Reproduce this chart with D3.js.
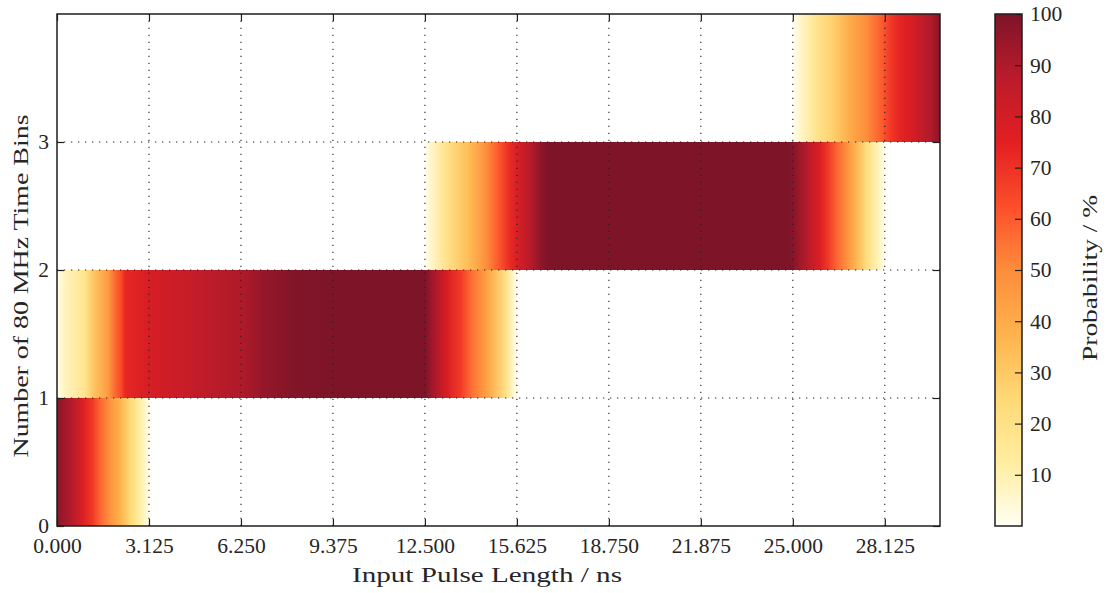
<!DOCTYPE html>
<html>
<head>
<meta charset="utf-8">
<script src="https://cdn.jsdelivr.net/npm/d3@7"></script>
<style>
  body { margin: 0; background: #fff; }
  text { font-family: "Liberation Serif", serif; fill: #262626; }
</style>
</head>
<body>
<script>
(function(){
  // tick labels
  var xTicks = [0, 3.125, 6.25, 9.375, 12.5, 15.625, 18.75, 21.875, 25, 28.125];
  var yTicks = [0, 1, 2, 3];
  var cbTicks = [10, 20, 30, 40, 50, 60, 70, 80, 90, 100];

  // probability (%) along input pulse length (ns), one pair of arrays per time-bin row
  var bin0Length = [0, 0.03, 0.54, 0.85, 1.22, 1.46, 1.8, 2.14, 2.48, 2.82, 3.125];
  var bin0Prob   = [100, 97, 88, 78, 68, 58, 48, 38, 25, 12, 1];

  var bin1Length = [0, 0.27, 0.95, 1.3, 1.73, 2.0, 2.2, 2.31, 3.125, 4.7, 6.25, 7.0, 8.0, 9.0, 12.5, 12.77, 13.25, 13.7, 14.13, 14.7, 15.3, 15.5, 15.625];
  var bin1Prob   = [1, 8, 18, 33, 45, 58, 65, 73, 79, 85, 90, 95, 99, 100, 100, 92, 78, 68, 55, 40, 18, 5, 1];

  var bin2Length = [12.5, 12.57, 13.18, 14.03, 14.6, 14.98, 15.39, 15.66, 16.07, 16.41, 16.65, 24.9, 25.25, 25.6, 25.9, 26.15, 26.5, 26.85, 27.2, 27.5, 27.86, 28.125];
  var bin2Prob   = [1, 3, 18, 35, 50, 60, 72, 79, 88, 96, 100, 100, 93, 85, 78, 70, 58, 48, 35, 22, 10, 1];

  var bin3Length = [25, 25.35, 25.8, 26.37, 26.95, 27.5, 28.03, 28.3, 28.65, 29.0, 29.3, 29.7, 30];
  var bin3Prob   = [1, 8, 18, 28, 40, 50, 60, 68, 74, 78, 84, 90, 98];

  // YlOrRd colour steps
  var palette = ["#fffff2", "#ffeda0", "#fed976", "#feb24c", "#fd8d3c", "#fc4e2a", "#e31f22", "#bb1b2b", "#7e1428"];

  var rows = [
    { bin: 0, ns: bin0Length, p: bin0Prob },
    { bin: 1, ns: bin1Length, p: bin1Prob },
    { bin: 2, ns: bin2Length, p: bin2Prob },
    { bin: 3, ns: bin3Length, p: bin3Prob }
  ];

  var width = 1107, height = 593;
  var left = 57, right = 940, top = 14, bottom = 526;
  var cbLeft = 995, cbRight = 1022;
  var fontSize = 21.5;

  var svg = d3.select("body").append("svg")
    .attr("width", width)
    .attr("height", height);
  var defs = svg.append("defs");

  var x = d3.scaleLinear().domain([0, 30]).range([left, right]);
  var y = d3.scaleLinear().domain([0, 4]).range([bottom, top]);
  var color = d3.scaleSequential(d3.piecewise(d3.interpolateRgb, palette)).domain([0, 100]);

  // heatmap rows, each a rect filled by a gradient built from the samples
  rows.forEach(function(r){
    var x0 = r.ns[0], x1 = r.ns[r.ns.length - 1];
    var id = "bin" + r.bin;
    var grad = defs.append("linearGradient")
      .attr("id", id)
      .attr("gradientUnits", "userSpaceOnUse")
      .attr("x1", x(x0)).attr("x2", x(x1))
      .attr("y1", 0).attr("y2", 0);
    grad.selectAll("stop").data(r.ns).enter().append("stop")
      .attr("offset", function(d){ return (d - x0) / (x1 - x0); })
      .attr("stop-color", function(d, i){ return color(r.p[i]); });
    svg.append("rect")
      .attr("x", x(x0))
      .attr("y", y(r.bin + 1))
      .attr("width", x(x1) - x(x0))
      .attr("height", y(r.bin) - y(r.bin + 1))
      .attr("fill", "url(#" + id + ")");
  });

  // dotted grid
  var grid = svg.append("g")
    .attr("stroke", "#222")
    .attr("stroke-width", 1.1)
    .attr("stroke-dasharray", "1.3,5.7");
  grid.selectAll("line.v").data(xTicks.slice(1)).enter().append("line")
    .attr("class", "v")
    .attr("x1", x).attr("x2", x)
    .attr("y1", bottom).attr("y2", top);
  grid.selectAll("line.h").data(yTicks.slice(1)).enter().append("line")
    .attr("class", "h")
    .attr("x1", left).attr("x2", right)
    .attr("y1", y).attr("y2", y);

  function styleAxis(g) {
    g.select(".domain").remove();
    g.selectAll(".tick line").attr("stroke", "#1e1e1e").attr("stroke-width", 1.2);
    g.selectAll("text").attr("font-size", fontSize).attr("fill", "#262626");
    g.attr("font-family", null).attr("font-size", null);
  }

  svg.append("g")
    .attr("transform", "translate(0," + bottom + ")")
    .call(d3.axisBottom(x).tickValues(xTicks).tickFormat(d3.format(".3f"))
      .tickSizeInner(-7).tickSizeOuter(0).tickPadding(12))
    .call(styleAxis);
  svg.append("g")
    .attr("transform", "translate(0," + top + ")")
    .call(d3.axisTop(x).tickValues(xTicks).tickFormat("")
      .tickSizeInner(-7).tickSizeOuter(0))
    .call(styleAxis);
  svg.append("g")
    .attr("transform", "translate(" + left + ",0)")
    .call(d3.axisLeft(y).tickValues(yTicks).tickFormat(d3.format("d"))
      .tickSizeInner(-7).tickSizeOuter(0).tickPadding(8))
    .call(styleAxis);
  svg.append("g")
    .attr("transform", "translate(" + right + ",0)")
    .call(d3.axisRight(y).tickValues(yTicks).tickFormat("")
      .tickSizeInner(-7).tickSizeOuter(0))
    .call(styleAxis);

  svg.append("rect")
    .attr("x", left).attr("y", top)
    .attr("width", right - left).attr("height", bottom - top)
    .attr("fill", "none").attr("stroke", "#1e1e1e").attr("stroke-width", 1.5);

  // colorbar
  var cb = d3.scaleLinear().domain([0, 100]).range([bottom, top]);
  var cbGrad = defs.append("linearGradient")
    .attr("id", "cbgrad")
    .attr("x1", 0).attr("x2", 0).attr("y1", 1).attr("y2", 0);
  cbGrad.selectAll("stop").data(d3.range(0, 101, 2.5)).enter().append("stop")
    .attr("offset", function(d){ return d / 100; })
    .attr("stop-color", function(d){ return color(d); });
  svg.append("rect")
    .attr("x", cbLeft).attr("y", top)
    .attr("width", cbRight - cbLeft).attr("height", bottom - top)
    .attr("fill", "url(#cbgrad)");
  svg.append("g")
    .attr("transform", "translate(" + cbRight + ",0)")
    .call(d3.axisRight(cb).tickValues(cbTicks).tickFormat(d3.format("d"))
      .tickSizeInner(-7).tickSizeOuter(0).tickPadding(8))
    .call(styleAxis);
  svg.append("rect")
    .attr("x", cbLeft).attr("y", top)
    .attr("width", cbRight - cbLeft).attr("height", bottom - top)
    .attr("fill", "none").attr("stroke", "#1e1e1e").attr("stroke-width", 1.5);

  // axis titles
  svg.append("text")
    .attr("x", 487).attr("y", 582)
    .attr("text-anchor", "middle")
    .attr("font-size", fontSize)
    .attr("textLength", 270).attr("lengthAdjust", "spacingAndGlyphs")
    .text("Input Pulse Length / ns");
  svg.append("text")
    .attr("transform", "translate(28,286) rotate(-90)")
    .attr("text-anchor", "middle")
    .attr("font-size", fontSize)
    .attr("textLength", 343).attr("lengthAdjust", "spacingAndGlyphs")
    .text("Number of 80 MHz Time Bins");
  svg.append("text")
    .attr("transform", "translate(1097,278) rotate(-90)")
    .attr("text-anchor", "middle")
    .attr("font-size", fontSize)
    .attr("textLength", 166).attr("lengthAdjust", "spacingAndGlyphs")
    .text("Probability / %");
})();
</script>
</body>
</html>
